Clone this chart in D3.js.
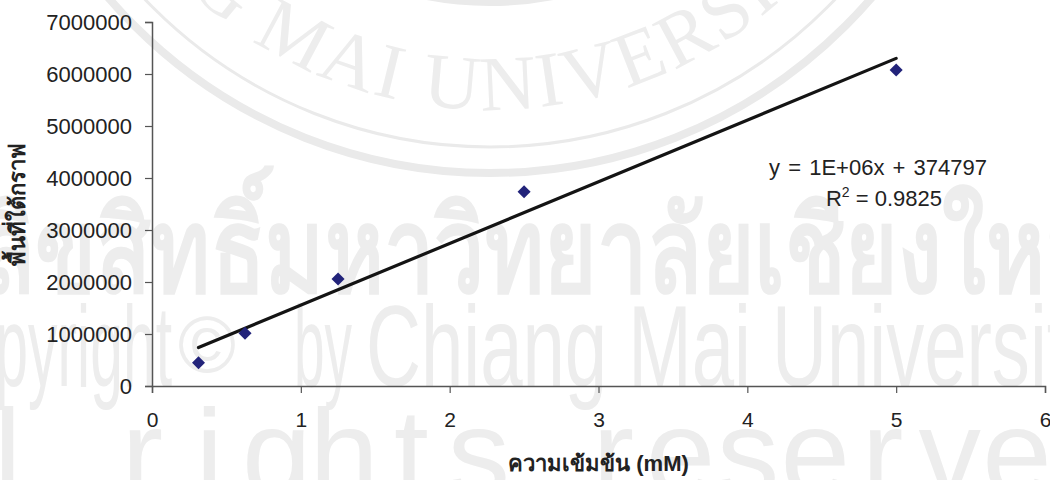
<!DOCTYPE html>
<html>
<head>
<meta charset="utf-8">
<script src="https://cdn.jsdelivr.net/npm/d3@7"></script>
<style>
  html, body { margin: 0; padding: 0; background: #fff; }
  svg { display: block; font-family: "Liberation Sans", Arial, sans-serif; }
</style>
</head>
<body>
<svg id="chart" width="1050" height="480"></svg>
<script>
// ---- data ----
const concentrations = [0.3125, 0.625, 1.25, 2.5, 5];           // mM
const areas = [448000, 1013000, 2058000, 3737000, 6077000];       // area under peak
const xTicks = [0, 1, 2, 3, 4, 5, 6];
const yTicks = [0, 1000000, 2000000, 3000000, 4000000, 5000000, 6000000, 7000000];
const xTitle = "ความเข้มข้น (mM)";
const yTitle = "พื้นที่ใต้กราฟ";
const eqText = "y = 1E+06x + 374797";
const r2Value = "0.9825";
// watermark texts
const watermarkThai = "ลิขสิทธิ์มหาวิทยาลัยเชียงใหม่";
const watermarkCopy = ["Copyright", "©", "by", "Chiang Mai University"];
const watermarkRights = "All rights reserved";
const watermarkSeal = "CHIANG MAI UNIVERSITY";

const svg = d3.select("#chart");
const m = { left: 152, right: 1045, top: 22, bottom: 386 };

// ---- faint watermark (background) ----
const wmColor = "#ededed";
const wm = svg.append("g").attr("fill", wmColor);
const sealC = { x: 490, y: -330 };
[{ r: 477, w: 3 }, { r: 503, w: 8 }, { r: 333, w: 6 }].forEach(c => {
  wm.append("circle").attr("cx", sealC.x).attr("cy", sealC.y).attr("r", c.r)
    .attr("fill", "none").attr("stroke", "#eaeaea").attr("stroke-width", c.w);
});
const sealR = 440;
svg.append("defs").append("path").attr("id", "sealArc")
  .attr("d", `M ${sealC.x - sealR} ${sealC.y} A ${sealR} ${sealR} 0 0 0 ${sealC.x + sealR} ${sealC.y}`);
wm.append("text")
  .attr("font-family", "Liberation Serif, serif")
  .attr("font-size", 78)
  .attr("letter-spacing", 3)
  .attr("text-anchor", "middle")
  .append("textPath")
  .attr("href", "#sealArc")
  .attr("startOffset", "44%")
  .text(watermarkSeal);

wm.append("text")
  .attr("x", -20).attr("y", 292)
  .attr("font-size", 118).attr("font-weight", "bold")
  .attr("textLength", 1125).attr("lengthAdjust", "spacingAndGlyphs")
  .text(watermarkThai);

const copyFont = "Liberation Sans Narrow, Liberation Sans, sans-serif";
const copyRow = wm.append("g").attr("font-family", copyFont).attr("font-size", 115);
copyRow.append("text").attr("x", -80).attr("y", 386)
  .attr("textLength", 252).attr("lengthAdjust", "spacingAndGlyphs").text(watermarkCopy[0]);
copyRow.append("text").attr("x", 178).attr("y", 372).attr("font-size", 80)
  .attr("textLength", 58).attr("lengthAdjust", "spacingAndGlyphs").text(watermarkCopy[1]);
copyRow.append("text").attr("x", 294).attr("y", 386)
  .attr("textLength", 58).attr("lengthAdjust", "spacingAndGlyphs").text(watermarkCopy[2]);
copyRow.append("text").attr("x", 366).attr("y", 386)
  .attr("textLength", 740).attr("lengthAdjust", "spacingAndGlyphs").text(watermarkCopy[3]);

const rightsChars = watermarkRights.split("");
wm.append("text")
  .attr("font-family", copyFont).attr("font-size", 125)
  .attr("text-anchor", "middle")
  .attr("x", rightsChars.map((c, i) => -127 + 67.3 * i).join(" "))
  .attr("y", 496)
  .text(watermarkRights);

// ---- scales ----
const x = d3.scaleLinear().domain([0, 6]).range([m.left, m.right]);
const y = d3.scaleLinear().domain([0, 7000000]).range([m.bottom, m.top]);

const axisColor = "#555";

// x axis
const gx = svg.append("g").attr("transform", `translate(0,${m.bottom})`)
  .call(d3.axisBottom(x).tickValues(xTicks).tickFormat(d3.format("d")).tickSizeOuter(0).tickSize(7));
gx.select(".domain").attr("stroke", axisColor).attr("stroke-width", 1.5);
gx.selectAll(".tick line").attr("stroke", axisColor).attr("stroke-width", 1.2);
gx.selectAll(".tick text").attr("font-size", 21).attr("fill", "#222")
  .attr("font-family", "Liberation Sans, Arial, sans-serif").attr("dy", 0).attr("y", 41);

// y axis
const gy = svg.append("g").attr("transform", `translate(${m.left},0)`)
  .call(d3.axisLeft(y).tickValues(yTicks).tickFormat(d3.format("d")).tickSizeOuter(0).tickSize(7));
gy.select(".domain").attr("stroke", axisColor).attr("stroke-width", 1.5);
gy.selectAll(".tick line").attr("stroke", axisColor).attr("stroke-width", 1.2);
gy.selectAll(".tick text").attr("font-size", 22).attr("fill", "#222")
  .attr("font-family", "Liberation Sans, Arial, sans-serif").attr("x", -20).attr("dy", "0.36em");

// trend line (least squares)
const n = concentrations.length;
const mx = d3.mean(concentrations), my = d3.mean(areas);
let sxy = 0, sxx = 0;
for (let i = 0; i < n; i++) {
  sxy += (concentrations[i] - mx) * (areas[i] - my);
  sxx += (concentrations[i] - mx) ** 2;
}
const slope = sxy / sxx, intercept = my - slope * mx;
const x0 = d3.min(concentrations), x1 = d3.max(concentrations);
svg.append("line")
  .attr("x1", x(x0)).attr("y1", y(slope * x0 + intercept))
  .attr("x2", x(x1)).attr("y2", y(slope * x1 + intercept))
  .attr("stroke", "#141414").attr("stroke-width", 3.2).attr("stroke-linecap", "round");

// points (diamonds)
svg.append("g").selectAll("path").data(concentrations).join("path")
  .attr("transform", (d, i) => `translate(${x(d)},${y(areas[i])}) rotate(45)`)
  .attr("d", d3.symbol().type(d3.symbolSquare).size(85))
  .attr("fill", "#22237a");

// equation
const eq = svg.append("g").attr("font-size", 22).attr("fill", "#222").attr("text-anchor", "middle");
eq.append("text").attr("x", 878).attr("y", 175).attr("word-spacing", 2).text(eqText);
const r2 = eq.append("text").attr("x", 884).attr("y", 206);
r2.append("tspan").text("R");
r2.append("tspan").attr("font-size", 14).attr("dy", -9).text("2");
r2.append("tspan").attr("dy", 9).text(" = " + r2Value);

// axis titles
svg.append("text")
  .attr("x", (m.left + m.right) / 2).attr("y", 471)
  .attr("text-anchor", "middle").attr("font-weight", "bold").attr("font-size", 22)
  .attr("fill", "#222")
  .text(xTitle);
svg.append("text")
  .attr("transform", `translate(25,${(m.top + m.bottom) / 2}) rotate(-90)`)
  .attr("text-anchor", "middle").attr("font-weight", "bold").attr("font-size", 22)
  .attr("fill", "#222")
  .text(yTitle);
</script>
</body>
</html>
